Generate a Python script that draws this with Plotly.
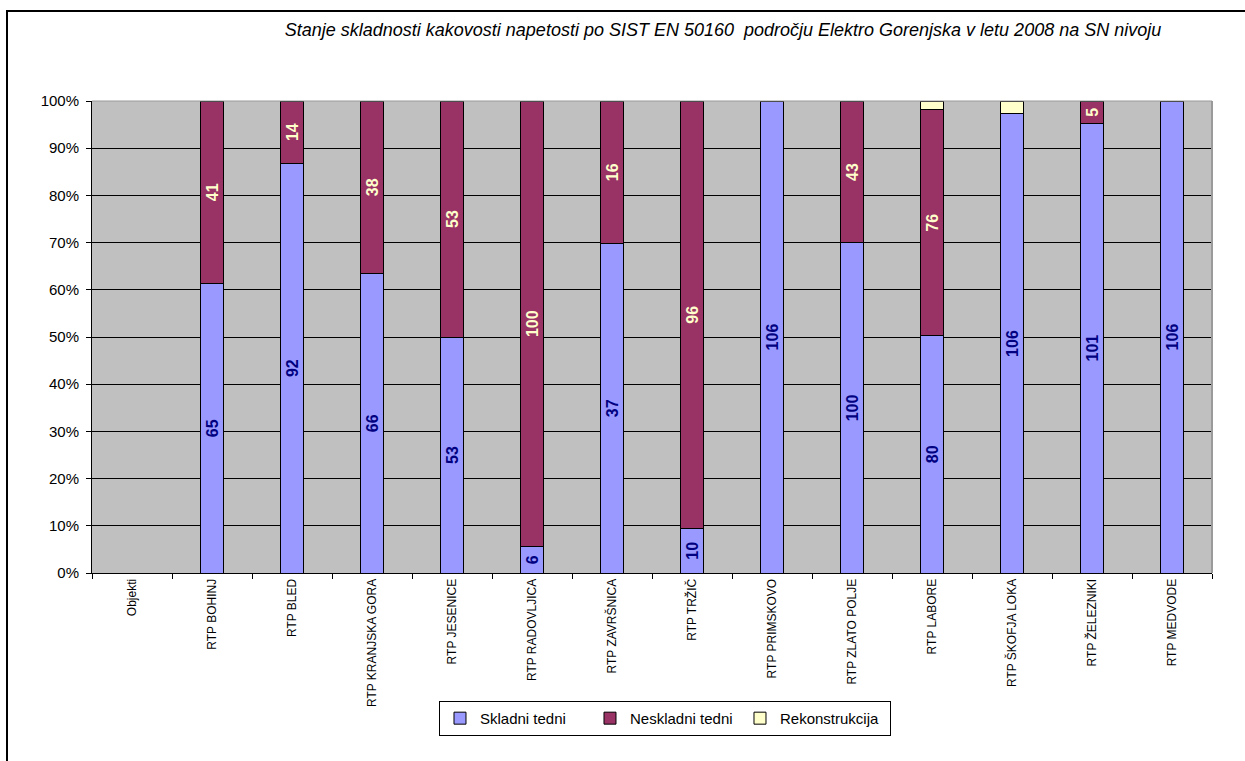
import plotly.graph_objects as go

# Substations and weekly compliance counts (EN 50160, MV level, 2008)
categories = [
    "Objekti", "RTP BOHINJ", "RTP BLED", "RTP KRANJSKA GORA", "RTP JESENICE",
    "RTP RADOVLJICA", "RTP ZAVRŠNICA", "RTP TRŽIČ", "RTP PRIMSKOVO",
    "RTP ZLATO POLJE", "RTP LABORE", "RTP ŠKOFJA LOKA", "RTP ŽELEZNIKI",
    "RTP MEDVODE",
]
skladni = [None, 65, 92, 66, 53, 6, 37, 10, 106, 100, 80, 106, 101, 106]
neskladni = [None, 41, 14, 38, 53, 100, 16, 96, 0, 43, 76, 0, 5, 0]
rekonstrukcija = [None, 0, 0, 0, 0, 0, 0, 0, 0, 0, 3, 3, 0, 0]

y_ticks = list(range(0, 101, 10))
y_tick_labels = [f"{v}%" for v in y_ticks]

FONT = "Liberation Sans, Arial, sans-serif"


def labels(values):
    return ["" if (v is None or v == 0) else str(v) for v in values]


series = [
    ("Skladni tedni", skladni, "#9999FF", "#000080", True),
    ("Neskladni tedni", neskladni, "#993366", "#FFFFCC", True),
    ("Rekonstrukcija", rekonstrukcija, "#FFFFCC", "#000000", False),
]

fig = go.Figure()
for name, vals, color, txtcolor, show_text in series:
    fig.add_trace(go.Bar(
        name=name,
        x=categories,
        y=vals,
        width=0.29,
        marker=dict(color=color, line=dict(color="#000000", width=1)),
        text=labels(vals) if show_text else None,
        textposition="inside" if show_text else "none",
        insidetextanchor="middle",
        textangle=-90,
        constraintext="none",
        textfont=dict(family=FONT, size=16, color=txtcolor, weight="bold"),
        hoverinfo="x+y+name",
    ))

fig.update_layout(
    width=1245,
    height=761,
    barmode="stack",
    barnorm="percent",
    paper_bgcolor="#FFFFFF",
    plot_bgcolor="#C0C0C0",
    margin=dict(l=92, r=33, t=101, b=188),
    font=dict(family=FONT, color="#000000"),
    title=dict(
        text="Stanje skladnosti kakovosti napetosti po SIST EN 50160  področju Elektro Gorenjska v letu 2008 na SN nivoju",
        font=dict(family=FONT, size=18, style="italic", color="#000000"),
        xref="container", x=0.5807, xanchor="center",
        yref="container", y=1 - 30 / 761, yanchor="middle",
    ),
    legend=dict(
        orientation="h",
        x=0.5116, xanchor="center",
        y=-0.271, yanchor="top",
        bgcolor="#FFFFFF",
        bordercolor="#000000",
        borderwidth=1,
        font=dict(family=FONT, size=15),
        itemwidth=30,
        entrywidth=105,
        entrywidthmode="pixels",
        traceorder="normal",
    ),
    showlegend=True,
)

fig.update_xaxes(
    type="category",
    categoryorder="array",
    categoryarray=categories,
    tickangle=-90,
    tickfont=dict(family=FONT, size=12),
    ticks="outside",
    tickson="boundaries",
    ticklen=5,
    tickcolor="#000000",
    showline=True,
    linecolor="#000000",
    linewidth=1,
    showgrid=False,
    mirror=False,
)
fig.update_yaxes(
    range=[0, 100],
    tickvals=y_ticks,
    ticktext=y_tick_labels,
    tickfont=dict(family=FONT, size=15),
    ticks="outside",
    ticklen=5,
    ticklabelstandoff=4,
    tickcolor="#000000",
    showline=True,
    linecolor="#000000",
    linewidth=1,
    showgrid=True,
    gridcolor="#000000",
    gridwidth=1,
    zeroline=False,
)

# Plot-area edge on the right/top and the outer chart frame
fig.add_shape(type="line", xref="paper", yref="paper", x0=1, x1=1, y0=0, y1=1,
              line=dict(color="#9A9A9A", width=2))
fig.add_shape(type="line", xref="paper", yref="paper", x0=0, x1=1, y0=1, y1=1,
              line=dict(color="#9A9A9A", width=1))
fig.add_shape(type="rect", xref="paper", yref="paper",
              x0=(7 - 92) / 1120, x1=1.2, y0=(573 - 11) / 472, y1=-0.5,
              line=dict(color="#000000", width=2), fillcolor="rgba(0,0,0,0)")

fig.write_html("out.html")
